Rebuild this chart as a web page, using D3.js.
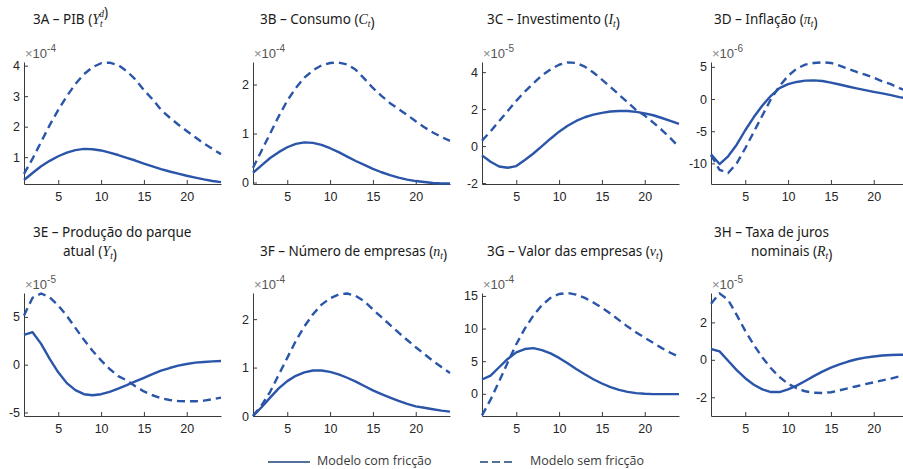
<!DOCTYPE html>
<html>
<head>
<meta charset="utf-8">
<script src="https://cdn.jsdelivr.net/npm/d3@7"></script>
<style>
  body { margin: 0; background: #fff; }
  svg { display: block; }
</style>
</head>
<body>
<div id="graph"></div>
<script>
// periods after the shock
const periods = [1,2,3,4,5,6,7,8,9,10,11,12,13,14,15,16,17,18,19,20,21,22,23,24];
const xTicks = [5, 10, 15, 20];

// 3A - PIB (x1e-4)
const pibCom = [0.25,0.48,0.70,0.88,1.03,1.15,1.23,1.27,1.26,1.22,1.15,1.07,0.98,0.89,0.79,0.70,0.61,0.53,0.46,0.39,0.33,0.27,0.22,0.18];
const pibSem = [0.45,0.95,1.50,2.05,2.55,3.00,3.40,3.72,3.95,4.08,4.10,4.02,3.82,3.55,3.20,2.90,2.55,2.30,2.07,1.86,1.65,1.45,1.27,1.10];
// 3B - Consumo (x1e-4)
const consCom = [0.20,0.35,0.50,0.62,0.72,0.79,0.82,0.81,0.77,0.70,0.62,0.53,0.44,0.36,0.28,0.21,0.15,0.10,0.06,0.03,0.01,-0.01,-0.02,-0.02];
const consSem = [0.30,0.65,1.00,1.35,1.67,1.93,2.14,2.29,2.39,2.44,2.45,2.41,2.30,2.12,1.93,1.77,1.62,1.50,1.38,1.25,1.13,1.02,0.93,0.85];
// 3C - Investimento (x1e-5)
const invCom = [-0.50,-0.85,-1.10,-1.17,-1.08,-0.75,-0.40,0.00,0.40,0.78,1.10,1.36,1.56,1.70,1.80,1.87,1.90,1.90,1.85,1.77,1.67,1.52,1.36,1.20];
const invSem = [0.30,0.80,1.35,1.90,2.45,2.95,3.40,3.82,4.15,4.40,4.53,4.50,4.30,3.98,3.60,3.20,2.78,2.37,1.95,1.65,1.27,0.87,0.43,-0.05];
// 3D - Inflacao (x1e-6)
const inflCom = [-8.6,-10.1,-8.9,-7.1,-4.85,-2.8,-1.0,0.5,1.7,2.3,2.65,2.85,2.9,2.8,2.55,2.25,1.95,1.65,1.38,1.12,0.87,0.6,0.3,0.05];
const inflSem = [-8.7,-11.0,-11.5,-10.0,-7.65,-5.1,-2.55,0.0,2.0,3.6,4.7,5.35,5.6,5.7,5.6,5.2,4.7,4.2,3.8,3.3,2.75,2.3,1.7,1.2];
// 3E - Producao do parque atual (x1e-5)
const prodCom = [3.12,3.4,2.18,0.6,-0.8,-1.93,-2.67,-3.09,-3.2,-3.09,-2.84,-2.5,-2.14,-1.75,-1.37,-0.98,-0.63,-0.35,-0.1,0.07,0.21,0.28,0.35,0.39];
const prodSem = [5.15,7.0,7.45,7.05,6.2,5.1,3.85,2.6,1.45,0.45,-0.45,-1.2,-1.65,-2.25,-2.8,-3.2,-3.5,-3.7,-3.8,-3.83,-3.83,-3.76,-3.62,-3.45];
// 3F - Numero de empresas (x1e-4)
const empCom = [0.0,0.18,0.38,0.57,0.72,0.83,0.90,0.94,0.94,0.91,0.86,0.79,0.71,0.62,0.53,0.45,0.38,0.31,0.25,0.20,0.17,0.14,0.11,0.09];
const empSem = [0.0,0.22,0.50,0.85,1.20,1.55,1.85,2.10,2.30,2.43,2.51,2.53,2.48,2.37,2.20,2.04,1.88,1.72,1.57,1.42,1.28,1.14,1.01,0.89];
// 3G - Valor das empresas (x1e-4)
const valCom = [2.19,2.8,4.07,5.34,6.35,6.86,7.0,6.7,6.2,5.5,4.68,3.8,3.0,2.24,1.58,1.02,0.6,0.3,0.1,0.0,-0.05,-0.05,-0.05,-0.05];
const valSem = [-3.3,-0.9,1.9,4.8,7.6,10.0,12.0,13.6,14.7,15.3,15.45,15.2,14.7,14.0,13.2,12.3,11.3,10.3,9.4,8.6,7.8,7.0,6.3,5.65];
// 3H - Taxa de juros nominais (x1e-5)
const jurosCom = [0.58,0.45,-0.05,-0.55,-0.98,-1.33,-1.58,-1.72,-1.72,-1.58,-1.38,-1.13,-0.87,-0.63,-0.42,-0.24,-0.09,0.03,0.12,0.18,0.23,0.26,0.27,0.27];
const jurosSem = [3.0,3.55,3.2,2.4,1.55,0.8,0.12,-0.45,-0.92,-1.28,-1.52,-1.68,-1.76,-1.77,-1.73,-1.63,-1.52,-1.41,-1.3,-1.2,-1.1,-1.0,-0.88,-0.76];

const legendLabels = ["Modelo com fricção", "Modelo sem fricção"];

// panel setup: title pieces, exponent, y ticks, y limits
const panels = [
  {title: [[{t: "3A – PIB ("}, {m: "Y", sub: "t", sup: "d"}, {t: ")"}]], exp: "-4", yTicks: [1,2,3,4], yLim: [0.12, 4.12], com: pibCom, sem: pibSem},
  {title: [[{t: "3B – Consumo ("}, {m: "C", sub: "t"}, {t: ")"}]], exp: "-4", yTicks: [0,1,2], yLim: [-0.03, 2.46], com: consCom, sem: consSem},
  {title: [[{t: "3C – Investimento ("}, {m: "I", sub: "t"}, {t: ")"}]], exp: "-5", yTicks: [-2,0,2,4], yLim: [-2.05, 4.55], com: invCom, sem: invSem},
  {title: [[{t: "3D – Inflação ("}, {m: "π", sub: "t"}, {t: ")"}]], exp: "-6", yTicks: [-10,-5,0,5], yLim: [-13.2, 5.75], com: inflCom, sem: inflSem},
  {title: [[{t: "3E – Produção do parque"}], [{t: "atual ("}, {m: "Y", sub: "t"}, {t: ")"}]], exp: "-5", yTicks: [-5,0,5], yLim: [-5.37, 7.5], com: prodCom, sem: prodSem},
  {title: [[], [{t: "3F – Número de empresas ("}, {m: "n", sub: "t"}, {t: ")"}]], exp: "-4", yTicks: [0,1,2], yLim: [0, 2.54], com: empCom, sem: empSem},
  {title: [[], [{t: "3G – Valor das empresas ("}, {m: "v", sub: "t"}, {t: ")"}]], exp: "-4", yTicks: [0,5,10,15], yLim: [-3.4, 15.45], com: valCom, sem: valSem},
  {title: [[{t: "3H – Taxa de juros"}], [{t: "nominais ("}, {m: "R", sub: "t"}, {t: ")"}]], exp: "-5", yTicks: [-2,0,2], yLim: [-3.0, 3.57], com: jurosCom, sem: jurosSem}
];

const W = 903, H = 469;
const colLeft = [24, 253, 482, 711];
const titleX = [33, 260, 487, 714];
const plotW = 197;
const rows = [{top: 62, bottom: 184, title: 24}, {top: 293, bottom: 416, title: 237}];
const lineColor = "#2a55a8";
const axisColor = "#3a3a3a";

const svg = d3.select("#graph")
  .append("svg")
  .attr("width", W)
  .attr("height", H)
  .style("font-family", "'Liberation Sans', Arial, sans-serif");

panels.forEach((p, i) => {
  const col = i % 4, row = rows[Math.floor(i / 4)];
  const x = d3.scaleLinear().domain([1, 24]).range([colLeft[col], colLeft[col] + plotW]);
  const y = d3.scaleLinear().domain(p.yLim).range([row.bottom, row.top]);
  const g = svg.append("g");

  // title (one or two lines)
  p.title.forEach((line, li) => {
    if (!line.length) return;
    const txt = g.append("text")
      .attr("x", titleX[col] + (li === 1 && p.title[0].length ? (col === 0 ? 30 : 37) : 0))
      .attr("y", row.title + li * 19)
      .attr("font-family", "'Noto Sans', sans-serif")
      .attr("font-size", 13.5)
      .attr("fill", "#1a1a1a");
    line.forEach(seg => {
      if (seg.t) {
        txt.append("tspan").text(seg.t);
      } else {
        txt.append("tspan").attr("font-family", "'Liberation Serif', serif")
          .attr("font-style", "italic").attr("font-size", 14).text(seg.m);
        txt.append("tspan").attr("font-family", "'Liberation Serif', serif")
          .attr("font-style", "italic").attr("font-size", 9.5).attr("dy", 3).text(seg.sub);
        if (seg.sup) {
          txt.append("tspan").attr("font-family", "'Liberation Serif', serif")
            .attr("font-style", "italic").attr("font-size", 9.5)
            .attr("dx", -3.5).attr("dy", -10).text(seg.sup);
          txt.append("tspan").attr("dy", 7).text("");
        } else {
          txt.append("tspan").attr("dy", -3).text("");
        }
      }
    });
  });

  // axes, ticks pointing inward like MATLAB
  const xAxis = g.append("g")
    .attr("transform", `translate(0,${row.bottom})`)
    .call(d3.axisBottom(x).tickValues(xTicks).tickFormat(d => d)
      .tickSizeInner(-4).tickSizeOuter(0).tickPadding(8));
  const yAxis = g.append("g")
    .attr("transform", `translate(${colLeft[col]},0)`)
    .call(d3.axisLeft(y).tickValues(p.yTicks).tickFormat(d => d)
      .tickSizeInner(-4).tickSizeOuter(0).tickPadding(4));
  [xAxis, yAxis].forEach(a => {
    a.select(".domain").attr("stroke", axisColor);
    a.selectAll(".tick line").attr("stroke", axisColor);
    a.selectAll(".tick text").attr("fill", "#262626").attr("font-size", 12.5)
      .attr("font-family", "'Liberation Sans', Arial, sans-serif");
  });

  // exponent label
  const ex = g.append("text")
    .attr("x", colLeft[col] + 1)
    .attr("y", row.top - 4)
    .attr("fill", "#555")
    .attr("font-size", 13);
  ex.append("tspan").attr("fill", "#888").text("×");
  ex.append("tspan").text("10");
  ex.append("tspan").attr("dy", -6).attr("font-size", 10).text(p.exp);

  const line = d3.line()
    .x((d, j) => x(periods[j]))
    .y(d => y(d));

  g.append("path")
    .datum(p.sem)
    .attr("fill", "none")
    .attr("stroke", lineColor)
    .attr("stroke-width", 2.4)
    .attr("stroke-linejoin", "round")
    .attr("stroke-dasharray", "8,5")
    .attr("d", line);

  g.append("path")
    .datum(p.com)
    .attr("fill", "none")
    .attr("stroke", lineColor)
    .attr("stroke-width", 2.4)
    .attr("stroke-linejoin", "round")
    .attr("d", line);
});

// legend
const legend = svg.append("g").attr("font-family", "'Open Sans', sans-serif");
const legendItems = [
  {label: legendLabels[0], x1: 268, x2: 310, tx: 317, dash: null},
  {label: legendLabels[1], x1: 480, x2: 513, tx: 530, dash: "8,4"}
];
legendItems.forEach(it => {
  legend.append("line")
    .attr("x1", it.x1).attr("x2", it.x2)
    .attr("y1", 462).attr("y2", 462)
    .attr("stroke", "#52719b")
    .attr("stroke-width", 2)
    .attr("stroke-dasharray", it.dash);
  legend.append("text")
    .attr("x", it.tx).attr("y", 465)
    .attr("font-size", 12.5)
    .attr("fill", "#3a3a3a")
    .text(it.label);
});
</script>
</body>
</html>
